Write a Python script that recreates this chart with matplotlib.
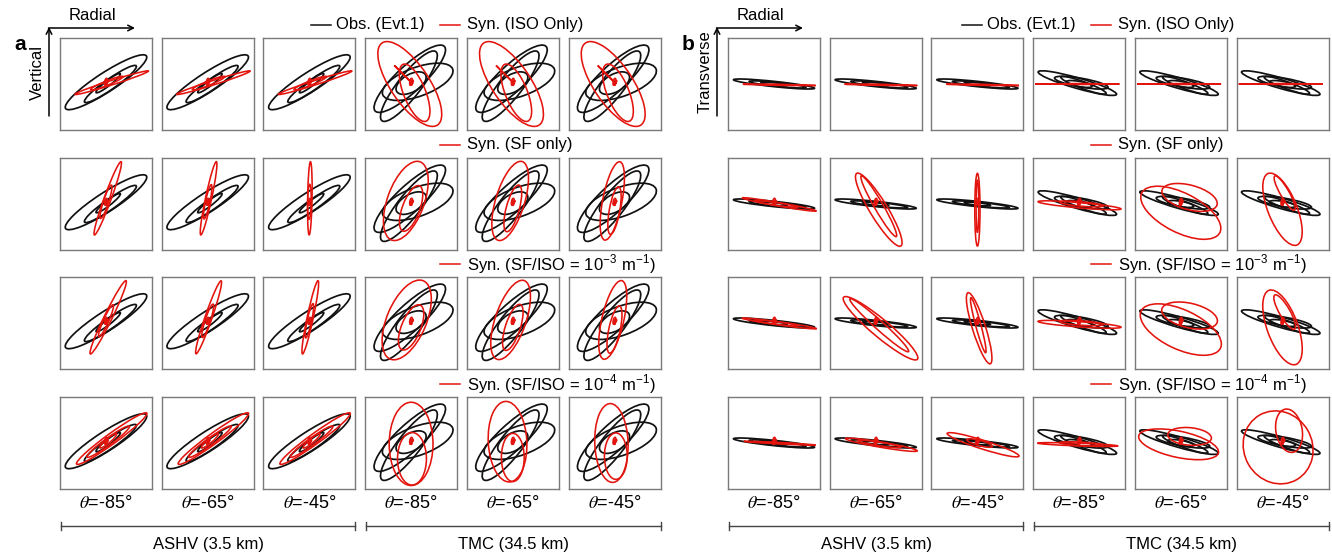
import numpy as np
import matplotlib.pyplot as plt
from matplotlib.patches import Ellipse

plt.rcParams['font.family'] = ['Liberation Sans', 'DejaVu Sans']
plt.rcParams['mathtext.fontset'] = 'stix'

W, H = 1332, 557

# every loop of a particle-motion trace: (x centre, y centre, semi-major, semi-minor, angle deg)
obs_a_ashv = [(0.0, 0.04, 1.1, 0.22, 33), (0.1, 0.0, 0.72, 0.12, 35), (0.05, 0.02, 0.35, 0.06, 38)]
obs_a_tmc = [(-0.03, 0.12, 1.08, 0.3, 43), (0.15, 0.05, 0.85, 0.33, 20),
             (-0.05, -0.05, 1.0, 0.26, 52), (0.0, 0.02, 0.38, 0.2, 30)]
obs_b_ashv = [(0.0, 0.0, 0.93, 0.06, -6), (0.08, -0.01, 0.65, 0.045, -6), (0.0, 0.0, 0.3, 0.03, -6)]
obs_b_tmc = [(-0.04, 0.02, 0.93, 0.12, -16), (0.05, 0.03, 0.62, 0.1, -10),
             (0.1, -0.03, 0.55, 0.08, -20), (0.0, 0.0, 0.3, 0.06, -10)]

core = [(0.0, 0.05, 0.08, 0.03, 80), (0.01, 0.03, 0.06, 0.02, 60),
        (0.0, 0.02, 0.05, 0.015, 100), (0.02, 0.04, 0.04, 0.012, 45)]

# synthetic traces, one list of loops per column (3 ASHV + 3 TMC)
syn_a_iso = [[(0.13, 0.03, 0.88, 0.05, 17.6), (0.02, 0.02, 0.4, 0.05, 22)]] * 3 + \
            [[(-0.03, 0.0, 1.13, 0.44, -56), (0.08, -0.2, 0.7, 0.25, -68),
              (-0.17, 0.21, 0.3, 0.005, -45)]] * 3
syn_a_sf = [[(0.04, 0.13, 0.89, 0.08, 70), (0.0, 0.05, 0.4, 0.06, 72)],
            [(0.02, 0.13, 0.855, 0.07, 78), (0.0, 0.05, 0.4, 0.05, 78)],
            [(0.01, 0.13, 0.835, 0.05, 89), (0.0, 0.05, 0.4, 0.04, 89)],
            [(-0.12, 0.07, 0.95, 0.42, 70), (0.0, -0.1, 0.55, 0.2, 70)],
            [(-0.06, 0.07, 0.94, 0.33, 73), (0.0, -0.1, 0.55, 0.15, 75)],
            [(-0.05, 0.07, 0.91, 0.22, 79), (0.0, -0.15, 0.55, 0.12, 80)]]
syn_a_r3 = [[(0.05, 0.13, 0.93, 0.09, 64), (0.0, 0.05, 0.4, 0.06, 66)],
            [(0.02, 0.13, 0.88, 0.08, 71), (0.0, 0.05, 0.4, 0.06, 72)],
            [(0.02, 0.13, 0.855, 0.07, 78), (0.0, 0.05, 0.4, 0.05, 78)],
            [(-0.1, 0.07, 0.97, 0.45, 67), (0.0, -0.1, 0.55, 0.22, 68)],
            [(-0.05, 0.07, 0.95, 0.35, 71), (0.0, -0.1, 0.55, 0.17, 72)],
            [(-0.04, 0.07, 0.92, 0.25, 77), (0.0, -0.15, 0.55, 0.13, 78)]]
syn_a_r4 = [[(0.13, 0.1, 0.99, 0.12, 36), (0.05, 0.03, 0.6, 0.08, 36), (0.05, 0.05, 0.25, 0.05, 40)]] * 3 + \
           [[(0.0, -0.02, 0.95, 0.5, 90), (0.02, -0.36, 0.6, 0.33, 90)],
            [(-0.12, 0.03, 0.92, 0.44, 93), (0.0, -0.33, 0.55, 0.26, 90)],
            [(-0.07, 0.0, 0.9, 0.38, 92), (0.03, -0.3, 0.53, 0.26, 90)]]

syn_b_iso = [[(0.12, -0.02, 0.83, 0.008, -1), (0.1, -0.02, 0.4, 0.01, -1)]] * 3 + \
            [[(-0.04, 0.0, 0.96, 0.005, 0), (0.0, 0.0, 0.4, 0.01, 0)]] * 3
syn_b_sf = [[(0.12, -0.01, 0.86, 0.04, -10), (0.05, 0.0, 0.5, 0.03, -8)],
            [(0.07, -0.13, 0.97, 0.2, -58.7), (0.07, -0.05, 0.8, 0.1, -60)],
            [(0.0, -0.13, 0.83, 0.06, 90), (0.0, -0.05, 0.6, 0.03, 90)],
            [(0.01, -0.03, 0.95, 0.06, -5), (0.05, 0.0, 0.5, 0.05, -5)],
            [(0.0, -0.2, 1.0, 0.45, -27), (0.2, 0.15, 0.65, 0.28, -15)],
            [(0.0, -0.12, 0.88, 0.33, -68), (0.05, 0.25, 0.45, 0.1, -60)]]
syn_b_r3 = [[(0.12, -0.01, 0.86, 0.035, -8), (0.05, 0.0, 0.5, 0.03, -7)],
            [(0.11, -0.12, 1.1, 0.2, -40), (0.08, -0.05, 0.9, 0.1, -42)],
            [(0.04, -0.12, 0.85, 0.15, -72.6), (0.02, -0.05, 0.65, 0.06, -75)],
            [(0.01, -0.03, 0.95, 0.06, -4), (0.05, 0.0, 0.5, 0.05, -4)],
            [(0.0, -0.15, 1.0, 0.45, -25), (0.2, 0.17, 0.65, 0.28, -13)],
            [(0.0, -0.1, 0.9, 0.35, -70), (0.05, 0.25, 0.45, 0.12, -60)]]
syn_b_r4 = [[(0.13, -0.005, 0.82, 0.015, -3), (0.08, 0.0, 0.5, 0.01, -3)],
            [(0.13, -0.04, 0.83, 0.06, -9.7), (0.08, -0.02, 0.5, 0.04, -9)],
            [(0.13, -0.04, 0.86, 0.1, -17.6), (0.05, 0.0, 0.3, 0.06, -15)],
            [(-0.03, -0.035, 0.92, 0.03, -2), (0.05, -0.02, 0.5, 0.04, -3)],
            [(-0.05, -0.03, 0.93, 0.3, -12), (0.2, 0.15, 0.5, 0.2, -5)],
            [(-0.1, -0.1, 0.85, 0.78, -60), (0.15, 0.28, 0.5, 0.3, -80)]]

theta_labels = ['-85', '-65', '-45', '-85', '-65', '-45']
site_labels = ['ASHV (3.5 km)', 'TMC (34.5 km)']
row_labels = ['Syn. (ISO Only)', 'Syn. (SF only)',
              r'Syn. (SF/ISO = 10$^{\mathregular{-3}}$ m$^{\mathregular{-1}}$)',
              r'Syn. (SF/ISO = 10$^{\mathregular{-4}}$ m$^{\mathregular{-1}}$)']

BLACK = '#111111'
RED = '#e3140d'

fig = plt.figure(figsize=(W / 100, H / 100), dpi=100)
ov = fig.add_axes([0, 0, 1, 1])
ov.set_xlim(0, W)
ov.set_ylim(H, 0)
ov.axis('off')


def draw_loops(ax, loops, color, lw):
    for cx, cy, a, b, ang in loops:
        ax.add_patch(Ellipse((cx, cy), 2 * a, 2 * b, angle=ang, fill=False,
                             ec=color, lw=lw))


panels = [('a', 60, 'Vertical', obs_a_ashv, obs_a_tmc, [syn_a_iso, syn_a_sf, syn_a_r3, syn_a_r4], 311),
          ('b', 728, 'Transverse', obs_b_ashv, obs_b_tmc, [syn_b_iso, syn_b_sf, syn_b_r3, syn_b_r4], 962)]
row_tops = [38, 158, 277, 397]
dx, cw = 101.7, 92

for letter, x0, ylab, obs_ashv, obs_tmc, syn_rows, leg_x in panels:
    for r, syn in enumerate(syn_rows):
        for c in range(6):
            left = x0 + c * dx
            top = row_tops[r]
            ax = fig.add_axes([left / W, 1 - (top + cw) / H, cw / W, cw / H])
            ax.set_xlim(-1.05, 1.05)
            ax.set_ylim(-1.05, 1.05)
            ax.set_xticks([])
            ax.set_yticks([])
            for s in ax.spines.values():
                s.set_color('#7a7a7a')
                s.set_linewidth(1.0)
            draw_loops(ax, obs_ashv if c < 3 else obs_tmc, BLACK, 1.25)
            loops = syn[c]
            if not (r == 0 and letter == 'b'):
                loops = loops + core
            draw_loops(ax, loops, RED, 1.15)

    # legends above rows
    tx = 467 if letter == 'a' else 1118
    for r, lab in enumerate(row_labels):
        ly = row_tops[r] - 13
        ov.plot([tx - 27, tx - 7], [ly, ly], color=RED, lw=1.1)
        ov.text(tx, ly, lab, fontsize=12, va='center', ha='left')
    ov.plot([leg_x, leg_x + 20], [25, 25], color=BLACK, lw=1.1)
    ov.text(leg_x + 25, 25, 'Obs. (Evt.1)', fontsize=12, va='center', ha='left')

    # axes direction arrows
    ax0 = x0 - 11
    ov.annotate('', xy=(x0 + 75, 28), xytext=(ax0 - 0.5, 28),
                arrowprops=dict(arrowstyle='->', lw=1.1, color='k', shrinkA=0, shrinkB=0))
    ov.annotate('', xy=(ax0, 27), xytext=(ax0, 116),
                arrowprops=dict(arrowstyle='->', lw=1.1, color='k', shrinkA=0, shrinkB=0))
    ov.text(x0 + 32, 16, 'Radial', fontsize=12, ha='center', va='center')
    ov.text(ax0 - 12, 72, ylab, fontsize=12, ha='center', va='center', rotation=90)
    ov.text(x0 - 46, 45, letter, fontsize=15, fontweight='bold', ha='left', va='center')

    # theta labels and site brackets
    for c in range(6):
        ov.text(x0 + c * dx + cw / 2, 503, r'$\theta$=' + theta_labels[c] + '°',
                fontsize=13, ha='center', va='center')
    for g in range(2):
        bl = x0 + 1 + g * 3 * dx
        br = x0 + (g * 3 + 2) * dx + cw
        ov.plot([bl, br], [526, 526], color='#444444', lw=1.0)
        ov.plot([bl, bl], [522, 530], color='#444444', lw=1.0)
        ov.plot([br, br], [522, 530], color='#444444', lw=1.0)
        ov.text((bl + br) / 2, 544, site_labels[g], fontsize=12, ha='center', va='center')

fig.savefig('out.png', dpi=100)
